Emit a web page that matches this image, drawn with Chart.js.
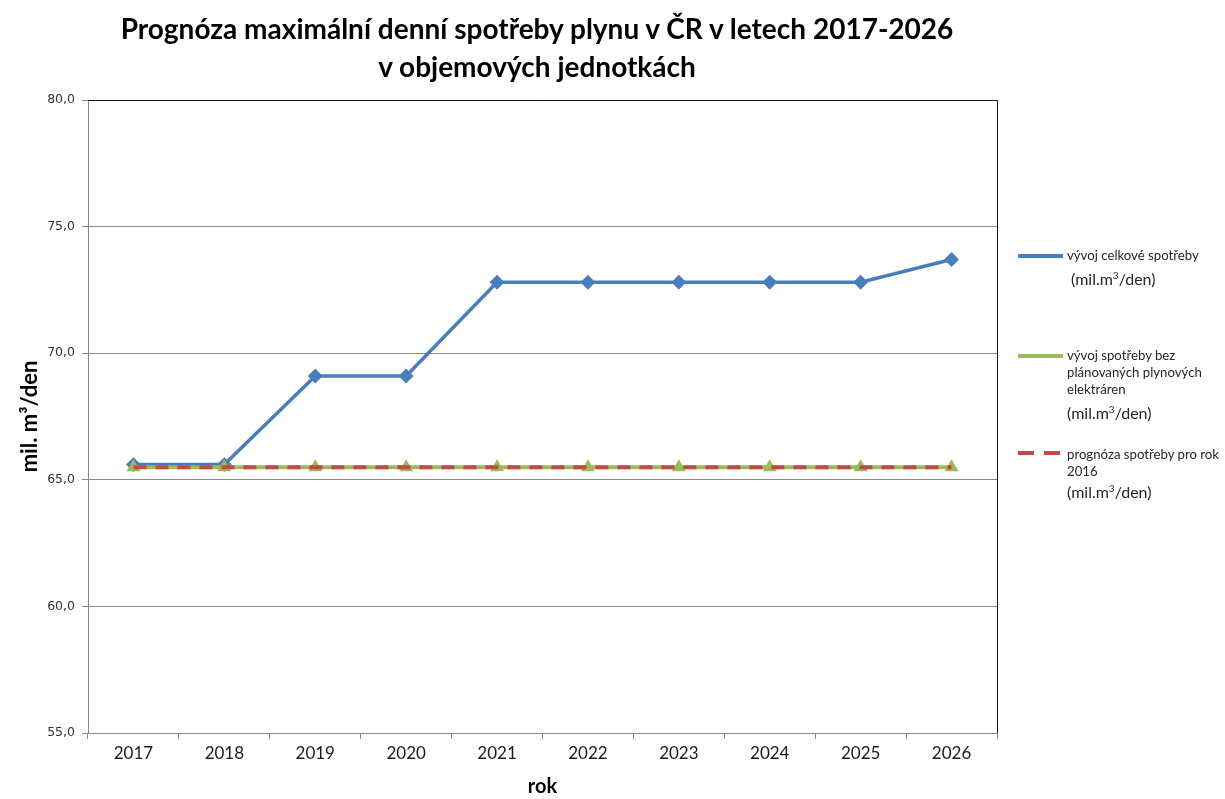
<!DOCTYPE html>
<html>
<head>
<meta charset="utf-8">
<script src="https://cdn.jsdelivr.net/npm/chart.js@4"></script>
<style>
    body { margin: 0; background: #fff; }
    #wrap { position: relative; width: 1225px; height: 799px; }
    #title { position: absolute; left: 37px; width: 1000px; top: 9px; text-align: center; white-space: nowrap; font-family: Lato, sans-serif; font-weight: bold; font-size: 28px; line-height: 38px; color: #000; }
    .leg { position: absolute; font-family: Lato, sans-serif; color: #262626; font-size: 13.2px; line-height: 17px; }
    .leg .unit { font-size: 16px; }
    .leg sup { font-size: 10px; }
    .sw { position: absolute; height: 4px; }
</style>
</head>
<body>
<div id="wrap">
    <canvas id="gasChart" width="1225" height="799"></canvas>
    <div id="title">Prognóza maximální denní spotřeby plynu v ČR v letech 2017-2026<br>v objemových jednotkách</div>

    <div class="sw" style="left:1018px; top:254px; width:45px; background:#4a7ebb;"></div>
    <div class="leg" style="left:1067px; top:247px;">vývoj celkové spotřeby<br><span class="unit" style="margin-left:4px; position:relative; top:3px;">(mil.m<sup>3</sup>/den)</span></div>

    <div class="sw" style="left:1018px; top:354px; width:45px; background:#9bbb59;"></div>
    <div class="leg" style="left:1067px; top:347px;">vývoj spotřeby bez<br>plánovaných plynových<br>elektráren<br><span class="unit" style="position:relative; top:3px;">(mil.m<sup>3</sup>/den)</span></div>

    <div class="sw" style="left:1018px; top:451px; width:16px; background:#be4b48;"></div>
    <div class="sw" style="left:1044px; top:451px; width:16px; background:#be4b48;"></div>
    <div class="leg" style="left:1067px; top:446px;">prognóza spotřeby pro rok<br>2016<br><span class="unit">(mil.m<sup>3</sup>/den)</span></div>
</div>

<script>
const years = ['2017', '2018', '2019', '2020', '2021', '2022', '2023', '2024', '2025', '2026'];
const totalUse = [65.6, 65.6, 69.1, 69.1, 72.8, 72.8, 72.8, 72.8, 72.8, 73.7];
const withoutPlants = [65.5, 65.5, 65.5, 65.5, 65.5, 65.5, 65.5, 65.5, 65.5, 65.5];
const forecast2016 = [65.5, 65.5, 65.5, 65.5, 65.5, 65.5, 65.5, 65.5, 65.5, 65.5];
const yMin = 55, yMax = 80, yStep = 5;

const font = 'Lato';

// top + right border of the plot area
const plotBorder = {
    id: 'plotBorder',
    afterDraw(chart) {
        const { ctx, chartArea: a } = chart;
        ctx.save();
        ctx.strokeStyle = '#1a1a1a';
        ctx.lineWidth = 1;
        ctx.beginPath();
        ctx.moveTo(a.left, a.top + 0.5);
        ctx.lineTo(a.right + 0.5, a.top + 0.5);
        ctx.lineTo(a.right + 0.5, a.bottom);
        ctx.stroke();
        ctx.restore();
    }
};

new Chart(document.getElementById('gasChart').getContext('2d'), {
    type: 'line',
    data: {
        labels: years,
        datasets: [{
            label: 'vývoj celkové spotřeby',
            data: totalUse,
            borderColor: '#4a7ebb',
            backgroundColor: '#4a7ebb',
            borderWidth: 3.5,
            pointStyle: 'rectRot',
            pointRadius: 5,
            tension: 0,
            order: 3
        }, {
            label: 'vývoj spotřeby bez plánovaných plynových elektráren',
            data: withoutPlants,
            borderColor: '#9bbb59',
            backgroundColor: '#9bbb59',
            borderWidth: 4,
            pointStyle: 'triangle',
            pointRadius: 4,
            tension: 0,
            order: 2
        }, {
            label: 'prognóza spotřeby pro rok 2016',
            data: forecast2016,
            borderColor: '#be4b48',
            borderWidth: 4,
            borderDash: [13, 9],
            pointRadius: 0,
            tension: 0,
            order: 1
        }]
    },
    options: {
        responsive: false,
        animation: false,
        layout: { padding: { left: 0, right: 228, top: 100, bottom: 0 } },
        plugins: {
            legend: { display: false },
            tooltip: { enabled: false },
            title: { display: false }
        },
        scales: {
            x: {
                offset: true,
                grid: { display: true, drawOnChartArea: false, offset: true, color: '#868686', tickLength: 6 },
                border: { color: '#868686' },
                ticks: { color: '#1a1a1a', font: { family: font, size: 17 }, padding: 4 },
                title: { display: true, text: 'rok', color: '#000', font: { family: font, size: 20, weight: 'bold' }, padding: { top: 6, bottom: 0 } },
                afterFit(scale) { scale.height = 66; }
            },
            y: {
                min: yMin,
                max: yMax,
                ticks: {
                    stepSize: yStep,
                    color: '#333',
                    font: { family: 'DejaVu Sans', size: 12.5 },
                    padding: 7,
                    callback: v => v.toFixed(1).replace('.', ',')
                },
                grid: { color: '#868686', tickLength: 6 },
                border: { color: '#868686' },
                title: { display: true, text: 'mil. m³/den', color: '#000', font: { family: font, size: 22, weight: 'bold' }, padding: { top: 17, bottom: 0 } },
                afterFit(scale) { scale.width = 88; }
            }
        }
    },
    plugins: [plotBorder]
});
</script>
</body>
</html>
